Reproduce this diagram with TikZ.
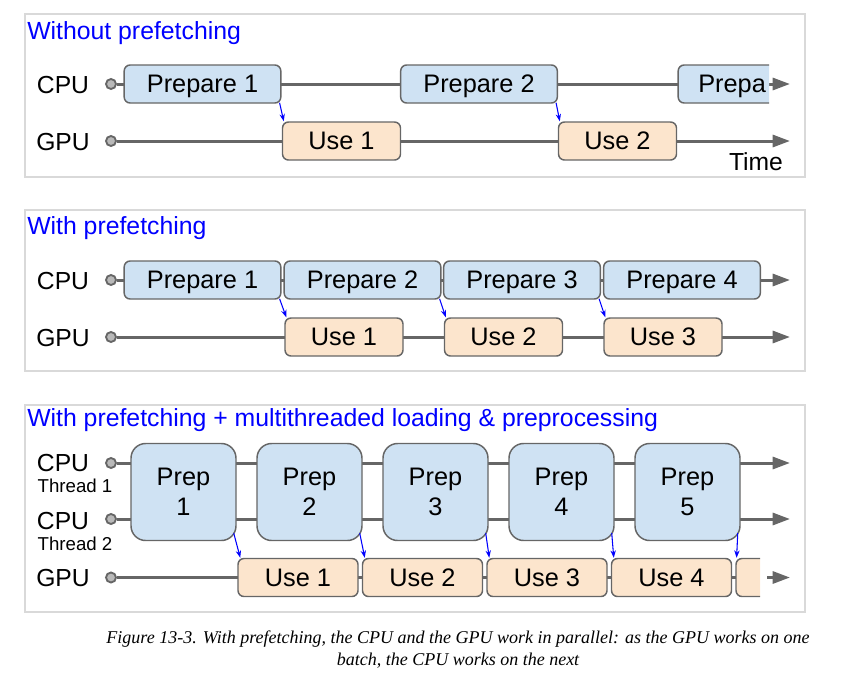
\documentclass[tikz,border=0pt]{standalone}
\usepackage{fontspec}
\setmainfont{Liberation Sans}
\newfontfamily\capfont{Liberation Serif}
\usetikzlibrary{arrows.meta,backgrounds}

\definecolor{cpublue}{HTML}{CFE2F3}
\definecolor{gpuorange}{HTML}{FCE5CD}
\definecolor{edgegray}{HTML}{666666}
\definecolor{framegray}{HTML}{D9D9D9}

\begin{document}
\begin{tikzpicture}[x=0.75pt, y=-0.75pt,
  panelframe/.style={draw=framegray, line width=1.2pt},
  paneltitle/.style={anchor=base west, inner sep=0pt, text=blue, font=\fontsize{18.6}{22}\selectfont},
  rowlabel/.style={inner sep=0pt, font=\fontsize{18.5}{22}\selectfont},
  threadlabel/.style={inner sep=0pt, font=\fontsize{14}{16}\selectfont},
  startdot/.style={circle, draw=edgegray, fill=gray!55, line width=1.4pt, minimum size=7.5pt, inner sep=0pt},
  timeline/.style={draw=edgegray, line width=2.25pt, -{Triangle[length=13pt,width=9pt]}},
  boxbase/.style={draw=edgegray, fill=cpublue, line width=1.1pt, rounded corners=4.5pt,
    minimum height=28.5pt, inner sep=0pt},
  prepbox/.style={boxbase, minimum width=117.5pt, text depth=0pt, font=\fontsize{19}{22}\selectfont},
  usebox/.style={prepbox, fill=gpuorange, minimum width=88.5pt},
  prepsq/.style={boxbase, rounded corners=11pt, minimum width=78.75pt, minimum height=72.75pt,
    align=center, font=\fontsize{19}{22.5}\selectfont},
  handoff/.style={draw=blue, line width=0.8pt, -{Stealth[length=5.5pt,width=4pt]}}]
\useasboundingbox (0,0) rectangle (847,697);

% without prefetching
\draw[panelframe] (25,14) rectangle (805,177);
\node[paneltitle] (t1) at (27,39) {Without prefetching};
\node[rowlabel] (cpu1) at (63,85) {CPU};
\node[rowlabel] (gpu1) at (63,142) {GPU};
\node[startdot] (c1) at (111,84) {};
\node[startdot] (g1) at (111,141) {};
\coordinate (c1end) at (790,84);
\coordinate (g1end) at (790,141);
\node[prepbox] (p11) at (202.5,84) {Prepare 1};
\node[prepbox] (p12) at (479,84) {Prepare 2};
\begin{scope}
\clip (670,55) rectangle (769,115);
\node[prepbox] (p13) at (756.5,84) {};
\end{scope}
\node[anchor=west, inner sep=0pt, text depth=0pt, font=\fontsize{19}{22}\selectfont] (p13txt) at (698,84) {Prepa};
\node[usebox] (u11) at (341.5,141) {Use 1};
\node[usebox] (u12) at (617.5,141) {Use 2};
\node[rowlabel] (time) at (756,162) {Time};
\draw[handoff] ([xshift=-1.5pt,yshift=0.75pt]p11.south east) -- ([xshift=1.5pt]u11.north west);
\draw[handoff] ([xshift=-1.5pt,yshift=0.75pt]p12.south east) -- ([xshift=1.5pt]u12.north west);
\begin{scope}[on background layer]
\draw[timeline] (c1) -- (c1end);
\draw[timeline] (g1) -- (g1end);
\end{scope}

% with prefetching
\draw[panelframe] (25,210) rectangle (805,371);
\node[paneltitle] (t2) at (27,234) {With prefetching};
\node[rowlabel] (cpu2) at (63,281) {CPU};
\node[rowlabel] (gpu2) at (63,338) {GPU};
\node[startdot] (c2) at (111,280) {};
\node[startdot] (g2) at (111,337) {};
\coordinate (c2end) at (790,280);
\coordinate (g2end) at (790,337);
\node[prepbox] (p21) at (202.5,280) {Prepare 1};
\node[prepbox] (p22) at (362.5,280) {Prepare 2};
\node[prepbox] (p23) at (522,280) {Prepare 3};
\node[prepbox] (p24) at (682,280) {Prepare 4};
\node[usebox] (u21) at (344,337) {Use 1};
\node[usebox] (u22) at (503.5,337) {Use 2};
\node[usebox] (u23) at (663,337) {Use 3};
\draw[handoff] ([xshift=-1.5pt,yshift=0.75pt]p21.south east) -- ([xshift=1.5pt]u21.north west);
\draw[handoff] ([xshift=-1.5pt,yshift=0.75pt]p22.south east) -- ([xshift=1.5pt]u22.north west);
\draw[handoff] ([xshift=-1.5pt,yshift=0.75pt]p23.south east) -- ([xshift=1.5pt]u23.north west);
\begin{scope}[on background layer]
\draw[timeline] (c2) -- (c2end);
\draw[timeline] (g2) -- (g2end);
\end{scope}

% with prefetching + multithreaded loading
\draw[panelframe] (25,405) rectangle (805,612);
\node[paneltitle] (t3) at (27,426) {With prefetching + multithreaded loading \& preprocessing};
\node[rowlabel] (cpu3a) at (63,463) {CPU};
\node[threadlabel] (th1) at (75,486) {Thread 1};
\node[rowlabel] (cpu3b) at (63,521) {CPU};
\node[threadlabel] (th2) at (75,544) {Thread 2};
\node[rowlabel] (gpu3) at (63,578) {GPU};
\node[startdot] (c3a) at (111,463) {};
\node[startdot] (c3b) at (111,519) {};
\node[startdot] (g3) at (111,577.5) {};
\coordinate (c3aend) at (790,463);
\coordinate (c3bend) at (790,519);
\coordinate (g3stop) at (760,577.5);
\coordinate (g3go) at (767,577.5);
\coordinate (g3end) at (790,577.5);
\node[prepsq] (p31) at (183.5,492) {Prep\\1};
\node[prepsq] (p32) at (309.5,492) {Prep\\2};
\node[prepsq] (p33) at (435.5,492) {Prep\\3};
\node[prepsq] (p34) at (561.5,492) {Prep\\4};
\node[prepsq] (p35) at (687.5,492) {Prep\\5};
\node[usebox, minimum width=90pt] (u31) at (298,577.5) {Use 1};
\node[usebox, minimum width=90pt] (u32) at (422.5,577.5) {Use 2};
\node[usebox, minimum width=90pt] (u33) at (547,577.5) {Use 3};
\node[usebox, minimum width=90pt] (u34) at (671.5,577.5) {Use 4};
\begin{scope}
\clip (730,550) rectangle (760,605);
\node[usebox, minimum width=90pt] (u35) at (796,577.5) {};
\end{scope}
\draw[handoff] ([xshift=-2.25pt,yshift=6pt]p31.south east) -- ([xshift=2.25pt]u31.north west);
\draw[handoff] ([xshift=-2.25pt,yshift=6pt]p32.south east) -- ([xshift=2.25pt]u32.north west);
\draw[handoff] ([xshift=-2.25pt,yshift=6pt]p33.south east) -- ([xshift=2.25pt]u33.north west);
\draw[handoff] ([xshift=-2.25pt,yshift=6pt]p34.south east) -- ([xshift=2.25pt]u34.north west);
\draw[handoff] ([xshift=-2.25pt,yshift=6pt]p35.south east) -- ([xshift=1pt]u35.north west);
\begin{scope}[on background layer]
\draw[timeline] (c3a) -- (c3aend);
\draw[timeline] (c3b) -- (c3bend);
\draw[draw=edgegray, line width=2.25pt] (g3) -- (g3stop);
\draw[timeline] (g3go) -- (g3end);
\end{scope}

% caption
\node[align=center, inner sep=0pt, font=\capfont\itshape\fontsize{13.5}{16.5}\selectfont] (caption) at (458,650)
  {Figure 13-3. With prefetching, the CPU and the GPU work in parallel: as the GPU works on one\\batch, the CPU works on the next};
\end{tikzpicture}
\end{document}
